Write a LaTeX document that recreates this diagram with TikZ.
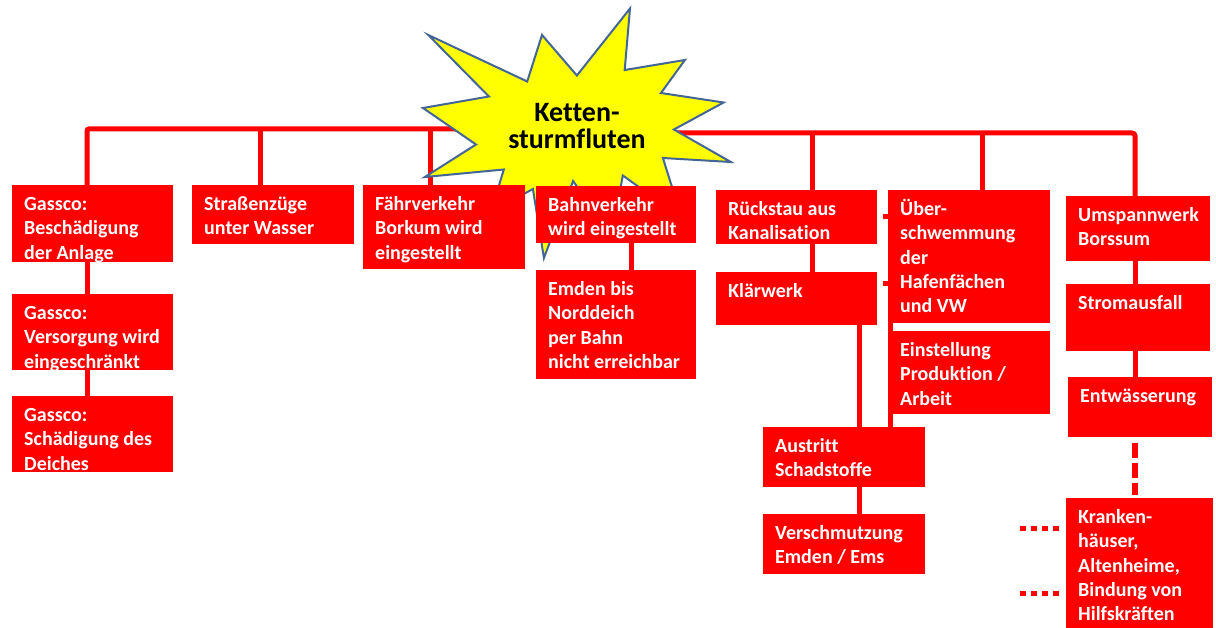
\documentclass[tikz,border=0pt]{standalone}
\usepackage{fontspec}
\setmainfont[Ligatures=NoCommon]{Carlito}
\definecolor{bred}{RGB}{255,0,0}
\definecolor{syel}{RGB}{255,255,0}
\definecolor{sline}{RGB}{68,102,150}
\pgfdeclarelayer{lines}
\pgfdeclarelayer{starl}
\pgfsetlayers{lines,starl,main}
\tikzset{
  conn/.style={draw=bred, line width=5pt},
  box/.style={fill=bred, draw=none, anchor=north west, inner sep=0pt, outer sep=0pt},
  btxt/.style={anchor=north west, inner sep=0pt, text=white, align=left,
    font=\fontsize{20}{24.2}\selectfont\bfseries},
  startxt/.style={align=center, inner sep=0pt, text=black,
    font=\fontsize{28}{27}\selectfont\bfseries},
}
\newcommand\bx[6]{%
  \node[box, minimum width=#4pt, minimum height=#5pt] (#1) at (#2,#3) {};
  \node[btxt] (#1t) at ([xshift=12pt,yshift=-8pt]#1.north west) {\rule{0pt}{17.5pt}#6};
}
\begin{document}
\begin{tikzpicture}[x=1pt,y=-1pt]
\begin{pgfonlayer}{lines}
  \fill[white] (0,0) rectangle (1216,628);
\end{pgfonlayer}
\useasboundingbox (0,0) rectangle (1216,628);

% boxes
\bx{g1}{12}{185}{161}{77}{Gassco:\\Beschädigung\\der Anlage}
\bx{g2}{12}{294}{161}{76}{Gassco:\\Versorgung wird\\eingeschränkt}
\bx{g3}{12}{396}{161}{76}{Gassco:\\Schädigung des\\Deiches}
\bx{s}{192}{185}{162}{59}{Straßenzüge\\unter Wasser}
\bx{f}{363}{185}{162}{84}{Fährverkehr\\Borkum wird\\eingestellt}
\bx{b}{536}{186}{160}{57}{Bahnverkehr\\wird eingestellt}
\bx{e}{536}{270}{160}{109}{Emden bis\\Norddeich\\per Bahn\\nicht erreichbar}
\bx{r}{716}{190}{161}{54}{Rückstau aus\\Kanalisation}
\bx{k}{716}{272}{161}{53}{Klärwerk}
\bx{u}{888}{190}{162}{133}{Über-\\schwemmung\\der\\Hafenfächen\\und VW}
\node[box, minimum width=157pt, minimum height=83pt] (ei) at (893,331) {};
\node[btxt] (eit) at ([xshift=7pt,yshift=-8pt]ei.north west) {\rule{0pt}{17.5pt}Einstellung\\Produktion /\\Arbeit};
\bx{a}{763}{427}{162}{60}{Austritt\\Schadstoffe}
\bx{v}{763}{514}{162}{60}{Verschmutzung\\Emden / Ems}
\bx{um}{1066}{196}{144}{65}{Umspannwerk\\Borssum}
\bx{st}{1066}{284}{144}{67}{Stromausfall}
\bx{ent}{1068}{377}{144}{60}{Entwässerung}
\bx{kr}{1066}{498}{147}{130}{Kranken-\\häuser,\\Altenheime,\\Bindung von\\Hilfskräften}

% star text
\node[startxt] (star) at (577,126) {Ketten-\\sturmfluten};

\begin{pgfonlayer}{starl}
  \draw[fill=syel, draw=sline, line width=2pt, line join=miter]
    (576.9,75.5) -- (630.0,8.5) -- (624.7,70.0) -- (684.9,60.0) -- (661.0,93.0)
    -- (723.6,102.5) -- (673.9,129.5) -- (730.8,162.0) -- (662.9,158.0)
    -- (681.6,217.5) -- (622.8,175.5) -- (611.8,236.5) -- (573.1,181.0)
    -- (543.9,258.0) -- (532.9,189.0) -- (490.9,212.0) -- (503.8,169.5)
    -- (424.9,177.0) -- (476.0,144.5) -- (423.0,108.0) -- (488.9,96.5)
    -- (428.3,35.0) -- (527.2,81.5) -- (542.0,35.0) -- cycle;
\end{pgfonlayer}

\begin{pgfonlayer}{lines}
  \coordinate (busL) at (590,129);
  \coordinate (busR) at (590,133);
  \draw[conn, rounded corners=2pt] ([xshift=-5.5pt]g1.north) |- (busL);
  \draw[conn] ([xshift=-13pt]s.north) -- ([xshift=-13pt]s.north |- busL);
  \draw[conn] ([xshift=-13.5pt]f.north) -- ([xshift=-13.5pt]f.north |- busL);
  \draw[conn, rounded corners=3pt] ([xshift=-3pt]um.north) |- (busR);
  \draw[conn] ([xshift=15.5pt]r.north) -- ([xshift=15.5pt]r.north |- busR);
  \draw[conn] ([xshift=13pt]u.north) -- ([xshift=13pt]u.north |- busR);
  % chains
  \draw[conn] ([xshift=-5.5pt]g1.south) -- ([xshift=-5.5pt]g2.north);
  \draw[conn] ([xshift=-5.5pt]g2.south) -- ([xshift=-5.5pt]g3.north);
  \draw[conn] ([xshift=15pt]b.south) -- ([xshift=15pt]e.north);
  \draw[conn] ([xshift=15.5pt]r.south) -- ([xshift=15.5pt]k.north);
  \draw[conn] ([xshift=15pt]a.north |- k.south) -- ([xshift=15pt]a.north);
  \draw[conn] ([xshift=2.5pt]u.south west) -- ([xshift=2.5pt]u.south west |- a.north);
  \draw[conn] ([xshift=15pt]a.south) -- ([xshift=15pt]v.north);
  \draw[conn] ([xshift=-3pt]um.south) -- ([xshift=-3pt]st.north);
  \draw[conn] ([xshift=-3pt]st.south) -- ([xshift=-3pt]st.south |- ent.north);
  % small stubs to Ueberschwemmung
  \draw[conn] ([yshift=-27pt]u.north west) -- ++(-5,0);
  \draw[conn] ([yshift=-94pt]u.north west) -- ++(-5,0);
  % dashed and dotted
  \draw[conn, line width=6pt, dash pattern=on 15pt off 5pt]
    ([xshift=-5pt,yshift=-6pt]ent.south) -- ([xshift=-5pt,yshift=3pt]ent.south |- kr.north);
  \coordinate (d1) at (1020,528);
  \coordinate (d2) at (1020,593);
  \draw[conn, dash pattern=on 6pt off 5pt] (d1) -- ([xshift=-4pt]d1 -| kr.west);
  \draw[conn, dash pattern=on 6pt off 5pt] (d2) -- ([xshift=-4pt]d2 -| kr.west);
\end{pgfonlayer}
\end{tikzpicture}
\end{document}
